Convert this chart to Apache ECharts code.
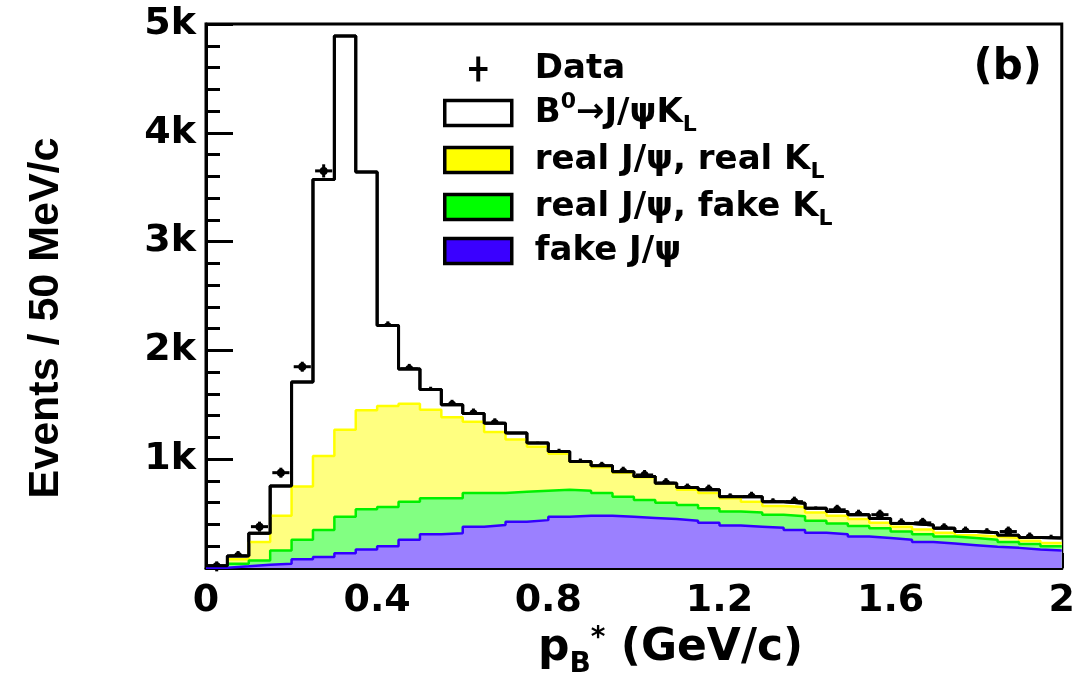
<!DOCTYPE html>
<html>
<head>
<meta charset="utf-8">
<script src="https://cdn.jsdelivr.net/npm/echarts@6/dist/echarts.min.js"></script>
<style>
html,body{margin:0;padding:0;background:#fff;}
#chart{width:1078px;height:677px;}
</style>
</head>
<body>
<div id="chart"></div>
<script>
// ---- data (bins of 50 MeV/c from 0 to 2 GeV/c) ----
const binWidth = 0.05;
const xTickLabels = ['0', '0.4', '0.8', '1.2', '1.6', '2'];
// stacked totals (top of each coloured layer), events per bin
const totalMC = [20, 110, 320, 754, 1710, 3570, 4890, 3640, 2230, 1830,
  1640, 1500, 1420, 1330, 1240, 1150, 1070, 980, 940, 885,
  840, 780, 740, 720, 655, 655, 610, 595, 550, 520,
  490, 455, 410, 395, 365, 335, 325, 300, 280, 275];
const dataCounts = [15, 110, 380, 876, 1850, 3650, 4750, 3500, 2220, 1830,
  1620, 1500, 1420, 1330, 1160, 1115, 1050, 960, 930, 885,
  855, 780, 730, 720, 640, 655, 595, 610, 520, 535,
  490, 490, 410, 415, 365, 335, 320, 335, 280, 260];
const realJpsiRealKL = [10, 80, 240, 480, 750, 1030, 1270, 1450, 1490, 1510,
  1455, 1385, 1345, 1250, 1180, 1115, 1050, 980, 925, 875,
  835, 780, 720, 690, 640, 610, 570, 560, 510, 480,
  450, 415, 380, 355, 325, 300, 290, 275, 250, 230];
const realJpsiFakeKL = [5, 40, 70, 160, 260, 350, 470, 540, 560, 610,
  640, 640, 690, 690, 700, 710, 720, 710, 690, 655,
  625, 600, 580, 550, 520, 510, 490, 475, 435, 410,
  385, 365, 335, 310, 290, 275, 260, 240, 220, 200];
const fakeJpsi = [2, 15, 30, 40, 80, 100, 135, 170, 200, 260,
  310, 320, 380, 395, 425, 440, 470, 480, 480, 470,
  460, 450, 435, 415, 390, 380, 370, 350, 325, 310,
  290, 275, 260, 240, 225, 210, 195, 185, 170, 160];

// ---- helpers ----
function stepData(values) {
  const pts = values.map((v, i) => [i * binWidth, v]);
  pts.push([values.length * binWidth, values[values.length - 1]]);
  return pts;
}
const dataPoints = dataCounts.map((v, i) => [i * binWidth + binWidth / 2, v]);

const FONT = 'DejaVu Sans';
const chart = echarts.init(document.getElementById('chart'), null, {renderer: 'canvas'});

function histSeries(name, values, lineColor, fillColor, lineWidth) {
  return {
    name: name,
    type: 'line',
    step: 'end',
    data: stepData(values),
    symbol: 'none',
    showSymbol: false,
    lineStyle: {color: lineColor, width: lineWidth},
    itemStyle: {color: lineColor},
    areaStyle: fillColor ? {color: fillColor, opacity: 1} : undefined,
    emphasis: {disabled: true},
    animation: false
  };
}

const NAME_DATA = 'Data';
const NAME_SIG = 'B0→J/ψKL';
const NAME_Y = 'real J/ψ, real KL';
const NAME_G = 'real J/ψ, fake KL';
const NAME_B = 'fake J/ψ';

const legendRich = {
  gap: {width: 18, fontSize: 34, lineHeight: 40},
  t: {fontSize: 34, lineHeight: 40, fontFamily: FONT, fontWeight: 'bold', color: '#000'},
  sub: {fontSize: 22, lineHeight: 40, padding: [24, 0, 0, 0], fontFamily: FONT, fontWeight: 'bold', color: '#000'},
  sup: {fontSize: 22, lineHeight: 40, padding: [0, 0, 21, 0], fontFamily: FONT, fontWeight: 'bold', color: '#000'}
};
const legendText = {};
legendText[NAME_DATA] = '{gap|}{t|Data}';
legendText[NAME_SIG] = '{gap|}{t|B}{sup|0}{t|→J/ψK}{sub|L}';
legendText[NAME_Y] = '{gap|}{t|real J/ψ, real K}{sub|L}';
legendText[NAME_G] = '{gap|}{t|real J/ψ, fake K}{sub|L}';
legendText[NAME_B] = '{gap|}{t|fake J/ψ}';

const option = {
  animation: false,
  backgroundColor: '#fff',
  grid: {left: 206, right: 16, top: 24, bottom: 109, show: true, borderColor: '#000', borderWidth: 3, backgroundColor: 'transparent'},
  xAxis: {
    type: 'value', min: 0, max: 2, interval: 0.4,
    axisLine: {show: true, onZero: false, lineStyle: {color: '#000', width: 3}},
    axisTick: {show: true, inside: true, length: 15, lineStyle: {color: '#000', width: 3}},
    minorTick: {show: true, splitNumber: 2, length: 8, lineStyle: {color: '#000', width: 3}},
    splitLine: {show: false},
    axisLabel: {
      margin: 14, fontFamily: FONT, fontWeight: 'bold', fontSize: 38, color: '#000',
      formatter: function (v) { const k = Math.round(v / 0.4); return xTickLabels[k] !== undefined ? xTickLabels[k] : ''; }
    }
  },
  yAxis: {
    type: 'value', min: 0, max: 5000, interval: 1000,
    axisLine: {show: true, lineStyle: {color: '#000', width: 3}},
    axisTick: {show: true, inside: true, length: 27, lineStyle: {color: '#000', width: 3}},
    minorTick: {show: true, splitNumber: 5, length: 14, lineStyle: {color: '#000', width: 3}},
    splitLine: {show: false},
    axisLabel: {
      margin: 10, fontFamily: FONT, fontWeight: 'bold', fontSize: 38, color: '#000',
      formatter: function (v) { return v === 0 ? '' : (v / 1000) + 'k'; }
    }
  },
  legend: {
    left: 438, top: 44, orient: 'vertical',
    itemWidth: 67, itemHeight: 25, itemGap: 1,
    selectedMode: false,
    data: [
      {name: NAME_DATA, icon: 'path://M0,8 L14,8 L14,11 L0,11 Z M5.5,0 L8.5,0 L8.5,19 L5.5,19 Z', itemStyle: {color: '#000', borderWidth: 0}},
      {name: NAME_SIG, icon: 'rect', itemStyle: {color: '#fff', borderColor: '#000', borderWidth: 3.5}},
      {name: NAME_Y, icon: 'rect', itemStyle: {color: '#ffff00', borderColor: '#000', borderWidth: 3.5}},
      {name: NAME_G, icon: 'rect', itemStyle: {color: '#00ff00', borderColor: '#000', borderWidth: 3.5}},
      {name: NAME_B, icon: 'rect', itemStyle: {color: '#3a00ff', borderColor: '#000', borderWidth: 3.5}}
    ],
    textStyle: {fontFamily: FONT, fontWeight: 'bold', fontSize: 34, lineHeight: 40, color: '#000', rich: legendRich},
    formatter: function (name) { return legendText[name]; }
  },
  title: {
    text: '{p|p}{sub|B}{sup|*}{t| (GeV/c)}',
    left: 538, top: 624, padding: 0,
    textStyle: {
      fontFamily: FONT, fontWeight: 'bold', fontSize: 44, lineHeight: 50, color: '#000',
      rich: {
        p: {fontFamily: FONT, fontWeight: 'bold', fontSize: 44, lineHeight: 50, color: '#000'},
        t: {fontFamily: FONT, fontWeight: 'bold', fontSize: 44, lineHeight: 50, color: '#000'},
        sub: {fontFamily: FONT, fontWeight: 'bold', fontSize: 28, lineHeight: 50, padding: [32, 0, 0, 0], color: '#000'},
        sup: {fontFamily: FONT, fontWeight: 'bold', fontSize: 28, lineHeight: 50, padding: [0, 0, 20, 0], color: '#000'}
      }
    }
  },
  graphic: [
    {type: 'text', x: 46, y: 318, rotation: Math.PI / 2, z: 100,
      style: {text: 'Events / 50 MeV/c', fontFamily: 'Liberation Sans', fontWeight: 'bold', fontSize: 43, fill: '#000', align: 'center', verticalAlign: 'middle'}},
    {type: 'text', x: 1042, y: 68, z: 100,
      style: {text: '(b)', fontFamily: FONT, fontWeight: 'bold', fontSize: 42, fill: '#000', align: 'right', verticalAlign: 'middle'}}
  ],
  series: [
    histSeries(NAME_SIG, totalMC, '#000', '#ffffff', 3),
    histSeries(NAME_Y, realJpsiRealKL, '#ffff00', '#ffff80', 2.5),
    histSeries(NAME_G, realJpsiFakeKL, '#00f000', '#82ff82', 2.5),
    histSeries(NAME_B, fakeJpsi, '#3300ff', '#9b80ff', 2.5),
    histSeries('outline', totalMC, '#000', null, 3),
    {
      name: NAME_DATA,
      type: 'custom',
      data: dataPoints,
      itemStyle: {color: '#000'},
      encode: {x: 0, y: 1},
      clip: false,
      renderItem: function (params, api) {
        const x = api.value(0), y = api.value(1);
        const c = api.coord([x, y]);
        const hw = api.size([binWidth * 0.4, 0])[0];
        const err = Math.sqrt(Math.max(y, 0));
        let top = api.coord([x, y + err])[1];
        let bot = api.coord([x, y - err])[1];
        top = Math.min(top, c[1] - 5);
        bot = Math.max(bot, c[1] + 5);
        const st = {stroke: '#000', lineWidth: 3};
        return {
          type: 'group',
          children: [
            {type: 'line', shape: {x1: c[0] - hw, y1: c[1], x2: c[0] + hw, y2: c[1]}, style: st},
            {type: 'line', shape: {x1: c[0], y1: top, x2: c[0], y2: bot}, style: st},
            {type: 'circle', shape: {cx: c[0], cy: c[1], r: 4}, style: {fill: '#000'}}
          ]
        };
      },
      animation: false
    }
  ]
};
chart.setOption(option);
</script>
</body>
</html>
